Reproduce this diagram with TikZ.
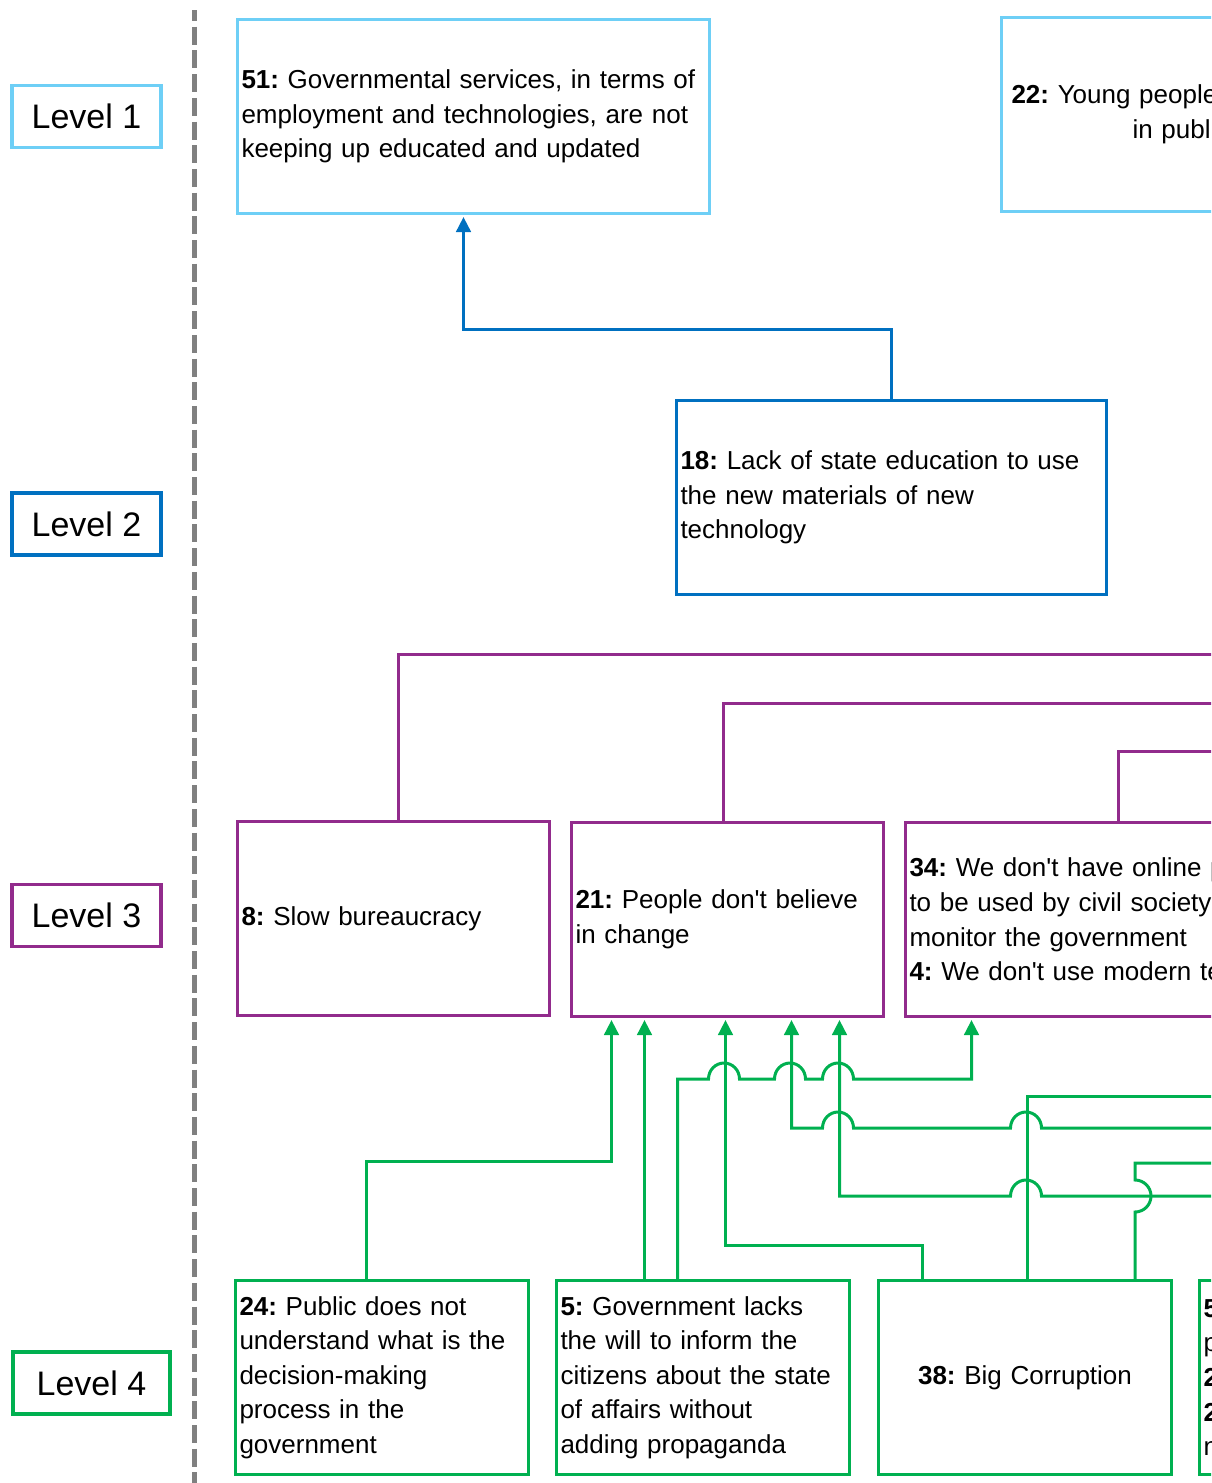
\documentclass[tikz,border=0pt]{standalone}
\usepackage{fontspec}
\setmainfont{Liberation Sans}
\usetikzlibrary{arrows.meta}
\frenchspacing

\definecolor{lvlone}{RGB}{110,207,246}
\definecolor{lvltwo}{RGB}{0,112,192}
\definecolor{lvlthree}{RGB}{146,43,140}
\definecolor{lvlfour}{RGB}{0,176,80}
\definecolor{sepgray}{RGB}{128,128,128}

\newcommand\boxfont{\fontsize{26}{34.6}\selectfont}
\newcommand\lvlfont{\fontsize{34}{40}\selectfont}
\newcommand\apos{\textquotesingle}

\tikzset{
  lvlbox/.style={draw=#1, line width=3.5pt, minimum width=149pt, minimum height=62pt,
    inner sep=0pt, font=\lvlfont},
  factor/.style={draw=#1, line width=3pt, anchor=north west, minimum height=194pt,
    inner xsep=4pt, inner ysep=0pt, align=left, font=\boxfont},
  link/.style={draw=#1, line width=3pt},
  linkarrow/.style={link=#1, -{Triangle[width=14.5pt,length=15pt]}, shorten >=2pt},
  hop/.style={x radius=15.5pt, y radius=16pt}
}

\begin{document}
\begin{tikzpicture}[x=1pt,y=-1pt]
  \useasboundingbox (0,0) rectangle (1211,1483);
  \clip (0,0) rectangle (1211,1483);

  % level labels
  \node[lvlbox=lvlone] (l1) at (86.5,116.5) {Level 1};
  \node[lvlbox=lvltwo] (l2) at (86.5,524) {Level 2};
  \node[lvlbox=lvlthree] (l3) at (86.5,915.5) {Level 3};
  \node[lvlbox=lvlfour, minimum width=157pt] (l4) at (91.5,1383) {Level 4};

  \draw[sepgray, line width=5.7pt, dash pattern=on 18pt off 5.7pt, dash phase=7pt]
    (194.5,10) -- (194.5,1483);

  % level 1
  \node[factor=lvlone, minimum width=472pt, text width=464pt] (n51) at (236,18)
    {\textbf{51:} Governmental services, in terms of\\
     employment and technologies, are not\\
     keeping up educated and updated};
  \node[factor=lvlone, minimum width=420pt, text width=412pt] (n22) at (1000,16)
    {\hspace*{6pt}\textbf{22:} Young people\\
     \hspace*{127pt}in publ};

  % level 2
  \node[factor=lvltwo, minimum width=430pt, text width=422pt] (n18) at (675,399)
    {\textbf{18:} Lack of state education to use\\
     the new materials of new\\
     technology};

  % level 3
  \node[factor=lvlthree, minimum width=312pt, text width=304pt] (n8) at (236,820)
    {\textbf{8:} Slow bureaucracy};
  \node[factor=lvlthree, minimum width=312pt, text width=304pt] (n21) at (570,821)
    {\textbf{21:} People don\apos t believe\\
     in change};
  \node[factor=lvlthree, minimum width=426pt, text width=418pt] (n34) at (904,821)
    {\textbf{34:} We don\apos t have online p\\
     to be used by civil society\\
     monitor the government\\
     \textbf{4:} We don\apos t use modern te};

  % level 4
  \node[factor=lvlfour, minimum width=293pt, text width=285pt] (n24) at (234,1279)
    {\textbf{24:} Public does not\\
     understand what is the\\
     decision-making\\
     process in the\\
     government};
  \node[factor=lvlfour, minimum width=293pt, text width=285pt] (n5) at (555,1279)
    {\textbf{5:} Government lacks\\
     the will to inform the\\
     citizens about the state\\
     of affairs without\\
     adding propaganda};
  \node[factor=lvlfour, minimum width=293pt, text width=285pt, align=center] (n38) at (877,1279)
    {\textbf{38:} Big Corruption};
  \node[factor=lvlfour, minimum width=300pt, text width=292pt] (n5b) at (1198,1279)
    {\textbf{5}\\ p\\ \textbf{2}\\ \textbf{2}\\ n};

  % free ends beyond the right edge
  \coordinate (e8) at (1230,654);
  \coordinate (e21) at (1230,703);
  \coordinate (e34) at (1230,751);
  \coordinate (g1128) at (1230,1128);
  \coordinate (g1196) at (1230,1196);
  \coordinate (g1096) at (1230,1096);
  \coordinate (g1163) at (1230,1163);

  % level 2 -> level 1
  \draw[linkarrow=lvltwo] (n18.north) -- ++(0,-70) -| ([xshift=-10pt]n51.south);

  % level 3 up
  \draw[link=lvlthree] ([xshift=5pt]n8.north) |- (e8);
  \draw[link=lvlthree] ([xshift=-4pt]n21.north) |- (e21);
  \draw[link=lvlthree] (n34.north) |- (e34);

  % level 4 -> level 3
  \draw[linkarrow=lvlfour] ([xshift=-15.5pt]n24.north) -- ++(0,-118) -| ([xshift=-116pt]n21.south);
  \draw[linkarrow=lvlfour] ([xshift=-58.5pt]n5.north) -- ([xshift=-83pt]n21.south);
  \draw[linkarrow=lvlfour] ([xshift=-25.5pt]n5.north) -- ++(0,-200)
    -- (708.5,1079) arc[start angle=180, end angle=0, hop]
    -- (774.5,1079) arc[start angle=180, end angle=0, hop]
    -- (822.5,1079) arc[start angle=180, end angle=0, hop]
    -| ([xshift=-147pt]n34.south);
  \draw[linkarrow=lvlfour] ([xshift=-102.5pt]n38.north) -- ++(0,-34) -| ([xshift=-2pt]n21.south);
  \draw[linkarrow=lvlfour] (g1128)
    -- (1041.5,1128) arc[start angle=0, end angle=180, hop]
    -- (853.5,1128) arc[start angle=0, end angle=180, hop]
    -| ([xshift=64pt]n21.south);
  \draw[linkarrow=lvlfour] (g1196)
    -- (1041.5,1196) arc[start angle=0, end angle=180, hop]
    -| ([xshift=112pt]n21.south);
  \draw[link=lvlfour] ([xshift=2.5pt]n38.north) |- (g1096);
  \draw[link=lvlfour] ([xshift=110pt]n38.north) -- ++(0,-67)
    arc[start angle=-90, end angle=90, x radius=16pt, y radius=16pt] |- (g1163);
\end{tikzpicture}
\end{document}
